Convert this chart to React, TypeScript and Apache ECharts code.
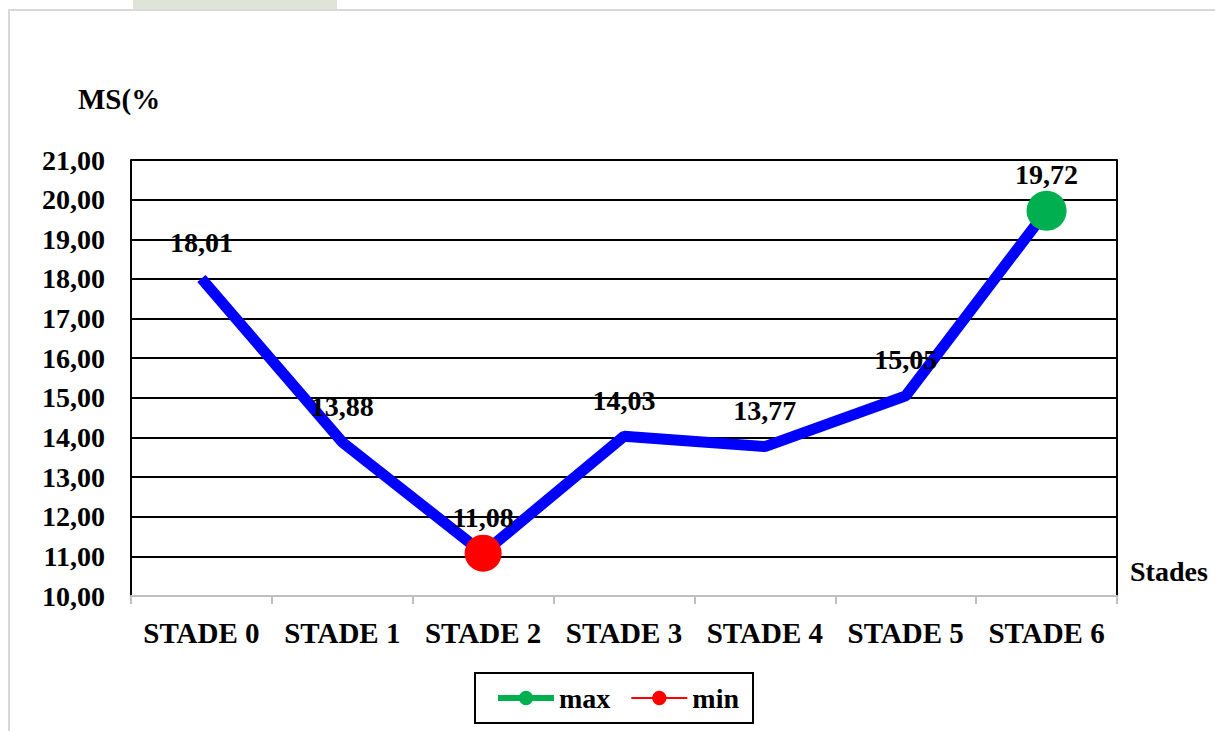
import React, { useEffect, useRef } from "react";
import * as echarts from "echarts";

const categories = ["STADE 0", "STADE 1", "STADE 2", "STADE 3", "STADE 4", "STADE 5", "STADE 6"];
const msValues = [18.01, 13.88, 11.08, 14.03, 13.77, 15.05, 19.72];
const maxValues = [null, null, null, null, null, null, 19.72];
const minValues = [null, null, 11.08, null, null, null, null];
const yTitle = "MS(%";
const xTitle = "Stades";

const FONT = "Liberation Serif, Times New Roman, serif";
const fmt = (v: number) => v.toFixed(2).replace(".", ",");

export default function App() {
  const ref = useRef<HTMLDivElement>(null);
  useEffect(() => {
    if (!ref.current) return;
    const chart = echarts.init(ref.current, undefined, { renderer: "svg" });
    chart.setOption({
      animation: false,
      backgroundColor: "#ffffff",
      textStyle: { fontFamily: FONT },
      grid: { left: 131, top: 160, width: 986, height: 436, containLabel: false },
      graphic: [
        { type: "rect", shape: { x: 133, y: 0, width: 204, height: 10 }, style: { fill: "#dfe4d8" }, silent: true },
        { type: "rect", shape: { x: 9, y: 10, width: 1230, height: 740 }, style: { fill: "none", stroke: "#d9d9d9", lineWidth: 2 }, silent: true },
        { type: "text", left: 78, top: 84, style: { text: yTitle, fontFamily: FONT, fontWeight: "bold", fontSize: 29, fill: "#000" } },
        { type: "text", left: 1130, top: 557, style: { text: xTitle, fontFamily: FONT, fontWeight: "bold", fontSize: 28, fill: "#000" } },
      ],
      legend: {
        left: 475,
        top: 673,
        width: 278,
        data: [
          { name: "max", lineStyle: { width: 6 } },
          { name: "min", lineStyle: { width: 2 } },
        ],
        borderColor: "#000",
        borderWidth: 2,
        padding: [11, 14, 11, 20],
        itemWidth: 56,
        itemHeight: 18,
        itemGap: 20,
        textStyle: { fontFamily: FONT, fontWeight: "bold", fontSize: 28, color: "#000" },
      },
      xAxis: {
        type: "category",
        data: categories,
        boundaryGap: true,
        axisLine: { lineStyle: { color: "#bfbfbf", width: 2 } },
        axisTick: { show: true, length: 8, lineStyle: { color: "#bfbfbf", width: 2 } },
        axisLabel: { fontFamily: FONT, fontWeight: "bold", fontSize: 29, color: "#000", margin: 22, interval: 0 },
        z: 5,
      },
      yAxis: [
        {
          type: "value",
          min: 10,
          max: 21,
          interval: 1,
          axisLine: { show: true, lineStyle: { color: "#000", width: 2 } },
          axisTick: { show: false },
          splitLine: { lineStyle: { color: "#000", width: 2 } },
          axisLabel: { fontFamily: FONT, fontWeight: "bold", fontSize: 28, color: "#000", margin: 26, formatter: fmt },
        },
        {
          type: "value",
          position: "right",
          min: 10,
          max: 21,
          interval: 1,
          axisLine: { show: true, lineStyle: { color: "#000", width: 2 } },
          axisTick: { show: false },
          splitLine: { show: false },
          axisLabel: { show: false },
        },
      ],
      series: [
        {
          name: "MS",
          type: "line",
          data: msValues,
          symbol: "circle",
          symbolSize: 0,
          showSymbol: true,
          lineStyle: { color: "#0000ff", width: 11 },
          itemStyle: { color: "#0000ff" },
          label: {
            show: true,
            position: "top",
            distance: 22,
            formatter: (p: any) => fmt(p.value),
            fontFamily: FONT,
            fontWeight: "bold",
            fontSize: 28,
            color: "#000",
          },
          z: 2,
        },
        {
          name: "max",
          type: "line",
          data: maxValues,
          symbol: "circle",
          symbolSize: 40,
          lineStyle: { color: "#00b050", width: 6 },
          itemStyle: { color: "#00b050" },
          z: 3,
        },
        {
          name: "min",
          type: "line",
          data: minValues,
          symbol: "circle",
          symbolSize: 37,
          lineStyle: { color: "#ff0000", width: 2 },
          itemStyle: { color: "#ff0000" },
          z: 3,
        },
      ],
    });
    return () => chart.dispose();
  }, []);
  return <div ref={ref} style={{ position: "fixed", left: 0, top: 0, width: 1215, height: 731 }} />;
}
